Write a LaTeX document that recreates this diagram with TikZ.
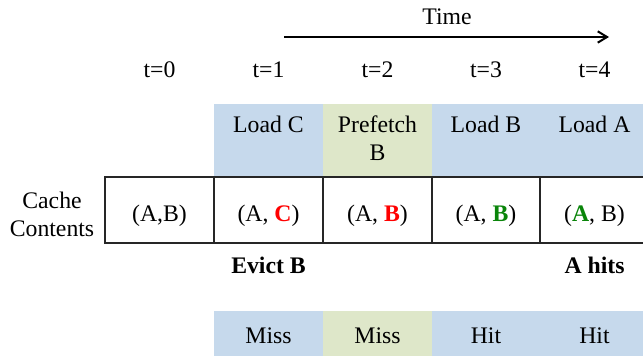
\documentclass[tikz,border=0pt]{standalone}
\usepackage{fontspec}
\setmainfont{Liberation Serif}
\usetikzlibrary{arrows.meta}
\definecolor{bandblue}{HTML}{C6D9EC}
\definecolor{bandgreen}{HTML}{DEE7C9}
\definecolor{missred}{HTML}{FF0000}
\definecolor{hitgreen}{HTML}{0A850A}
\begin{document}
\begin{tikzpicture}[x=0.75pt,y=-0.75pt,
  font=\fontsize{17.8pt}{21.3pt}\selectfont,
  lbl/.style={anchor=base, inner sep=0pt},
  boldlbl/.style={lbl, font=\fontsize{17.8pt}{21.3pt}\selectfont\bfseries},
  bandbox/.style={anchor=north west, inner sep=0pt, minimum width=81.75pt},
  cellbox/.style={draw=black!85, line width=1.1pt, inner sep=0pt,
    minimum width=81.75pt, minimum height=49.5pt,
    text height=18pt, text depth=0pt},
  timearrow/.style={line width=1.5pt, -{Straight Barb[length=7pt,width=8.5pt]}},
]
\useasboundingbox (0,0) rectangle (643,356);

% time axis
\node[lbl] (time) at (447,25) {Time};
\coordinate (tstart) at (284,37);
\coordinate (tend) at (609,37);
\draw[timearrow] (tstart) -- (tend);

% time steps
\node[lbl] (t0) at (159.5,78) {t=0};
\node[lbl] (t1) at (268.5,78) {t=1};
\node[lbl] (t2) at (377.5,78) {t=2};
\node[lbl] (t3) at (486,78) {t=3};
\node[lbl] (t4) at (594.5,78) {t=4};

% requests
\node[bandbox, fill=bandblue,  minimum height=54.75pt] (r1) at (214,104) {};
\node[bandbox, fill=bandgreen, minimum height=54.75pt] (r2) at (323,104) {};
\node[bandbox, fill=bandblue,  minimum height=54.75pt] (r3) at (432,104) {};
\node[bandbox, fill=bandblue,  minimum height=54.75pt] (r4) at (540,104) {};
\node[lbl] (q1) at (268.5,133) {Load C};
\node[lbl, align=center] (q2) at (377.5,161) {Prefetch\\B};
\node[lbl] (q3) at (486,133) {Load B};
\node[lbl] (q4) at (594.5,133) {Load A};

% cache contents
\node[lbl, align=center] (cc) at (52,237) {Cache\\Contents};
\node[cellbox] (c0) at (159.5,210) {(A,B)};
\node[cellbox] (c1) at (268.5,210) {(A, \textcolor{missred}{\textbf{C}})};
\node[cellbox] (c2) at (377.5,210) {(A, \textcolor{missred}{\textbf{B}})};
\node[cellbox] (c3) at (486,210) {(A, \textcolor{hitgreen}{\textbf{B}})};
\node[cellbox] (c4) at (594.5,210) {(\textcolor{hitgreen}{\textbf{A}}, B)};

% notes
\node[boldlbl] (ev) at (268.5,273) {Evict B};
\node[boldlbl] (ah) at (594.5,273) {A hits};

% outcomes
\node[bandbox, fill=bandblue,  minimum height=39.75pt] (o1) at (214,311) {};
\node[bandbox, fill=bandgreen, minimum height=39.75pt] (o2) at (323,311) {};
\node[bandbox, fill=bandblue,  minimum height=39.75pt] (o3) at (432,311) {};
\node[bandbox, fill=bandblue,  minimum height=39.75pt] (o4) at (540,311) {};
\node[lbl] (m1) at (268.5,344) {Miss};
\node[lbl] (m2) at (377.5,344) {Miss};
\node[lbl] (m3) at (486,344) {Hit};
\node[lbl] (m4) at (594.5,344) {Hit};
\end{tikzpicture}
\end{document}
